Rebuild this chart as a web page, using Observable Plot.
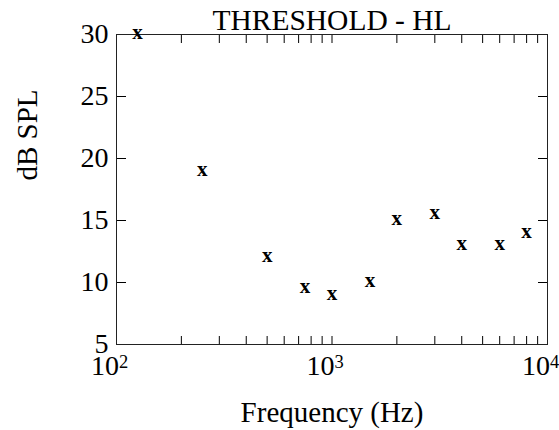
<!DOCTYPE html>
<html><head><meta charset="utf-8">
<script src="https://cdn.jsdelivr.net/npm/d3@7"></script>
<script src="https://cdn.jsdelivr.net/npm/@observablehq/plot@0.6"></script>
<style>
html,body{margin:0;padding:0;background:#fff;}
</style>
</head><body><div id="chart"></div>
<script>
const frequencies = [125, 250, 500, 750, 1000, 1500, 2000, 3000, 4000, 6000, 8000];
const thresholds = [30, 19, 12, 9.5, 9, 10, 15, 15.5, 13, 13, 14];
const yTicks = [5, 10, 15, 20, 25, 30];
const xLabelTicks = [100, 1000, 10000];
const xLabelExponents = ["2", "3", "4"];
const xMinorTicks = [200, 300, 400, 500, 600, 700, 800, 900, 1000, 2000, 3000, 4000, 5000, 6000, 7000, 8000, 9000];
const title = "THRESHOLD - HL";
const xLabel = "Frequency (Hz)";
const yLabel = "dB SPL";
const markerGlyph = "x";

const data = frequencies.map((f, i) => ({f, db: thresholds[i]}));
const serif = "Liberation Serif";

const chart = Plot.plot({
  width: 559, height: 430,
  marginLeft: 116, marginRight: 12, marginTop: 34, marginBottom: 86,
  style: {fontSize: "28px", background: "#fff", color: "#000"},
  x: {type: "log", domain: [100, 10000]},
  y: {domain: [5, 30]},
  marks: [
    Plot.axisY(yTicks, {anchor: "left", tickSize: 0, tickPadding: 8, label: null, fontSize: 28}),
    Plot.axisY(yTicks, {anchor: "left", tickSize: -10, tickFormat: () => "", label: null}),
    Plot.axisY(yTicks, {anchor: "right", tickSize: -10, tickFormat: () => "", label: null}),
    Plot.axisX(xMinorTicks, {anchor: "bottom", tickSize: -8, tickFormat: () => "", label: null}),
    Plot.axisX(xMinorTicks, {anchor: "top", tickSize: -8, tickFormat: () => "", label: null}),
    Plot.axisX(xLabelTicks, {anchor: "bottom", tickSize: 0, tickPadding: 11, dx: -7, fontSize: 28,
      tickFormat: d => "10" + xLabelExponents[xLabelTicks.indexOf(d)], label: null}),
    Plot.frame({stroke: "#222"}),
    Plot.text(data, {x: "f", y: "db", text: () => markerGlyph, fontWeight: "bold", fontSize: 21, dy: -2}),
    Plot.text([title], {frameAnchor: "top", lineAnchor: "bottom", dy: -5, fontSize: 29.5}),
    Plot.text([xLabel], {frameAnchor: "bottom", lineAnchor: "bottom", dy: 77, fontSize: 29}),
    Plot.text([yLabel], {frameAnchor: "left", rotate: -90, dx: -89, dy: -9, fontSize: 29})
  ]
});

d3.select(chart).attr("font-family", serif).style("font-family", "'Liberation Serif', serif");
d3.select(chart).selectAll("g").attr("font-family", null);
d3.select(chart).selectAll("text").style("font-family", "'Liberation Serif', serif");

d3.select(chart).selectAll("text").each(function() {
  const t = this.textContent;
  if (/^10\d$/.test(t) && !this.querySelector("tspan")) {
    const sel = d3.select(this);
    sel.text("10");
    sel.append("tspan").attr("dy", "-0.4em").attr("font-size", "0.66em").text(t.slice(2));
  }
});

document.getElementById("chart").appendChild(chart);
</script>
</body></html>
